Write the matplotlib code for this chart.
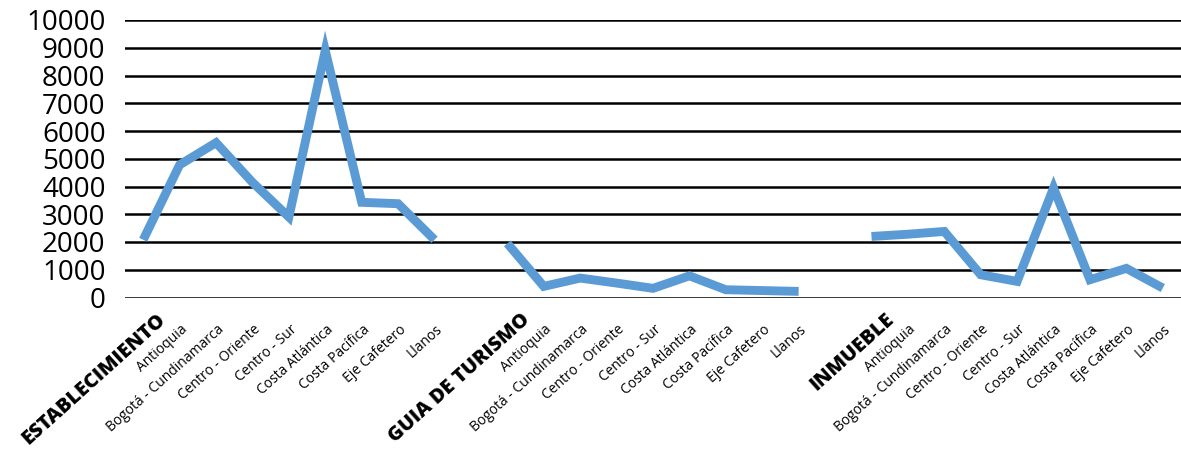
import numpy as np
import matplotlib
matplotlib.use("Agg")
import matplotlib.pyplot as plt
from matplotlib.transforms import blended_transform_factory, ScaledTranslation

groups = ["ESTABLECIMIENTO", "GUIA DE TURISMO", "INMUEBLE"]
regions = ["Antioquia", "Bogotá - Cundinamarca", "Centro - Oriente", "Centro - Sur",
           "Costa Atlántica", "Costa Pacífica", "Eje Cafetero", "Llanos"]
# first value in each list belongs to the group-label category
establecimiento = [2080, 4780, 5580, 4150, 2900, 8900, 3430, 3380, 2080]
guia_turismo = [1950, 400, 700, 520, 330, 780, 280, 250, 220]
inmueble = [2200, 2280, 2380, 820, 580, 3950, 640, 1050, 340]
yticks = [0, 1000, 2000, 3000, 4000, 5000, 6000, 7000, 8000, 9000, 10000]

series = [establecimiento, guia_turismo, inmueble]

labels, bold_flags, values = [], [], []
for gi, (g, vals) in enumerate(zip(groups, series)):
    labels.append(g); bold_flags.append(True)
    for r in regions:
        labels.append(r); bold_flags.append(False)
    values.extend(vals)
    if gi < len(groups) - 1:
        labels.append(""); bold_flags.append(False)
        values.append(np.nan)

x = np.arange(len(labels))
values = np.array(values, dtype=float)

W, H = 1181, 449
fig = plt.figure(figsize=(W / 100, H / 100), dpi=100)
ax = fig.add_axes([125 / W, (H - 297.5) / H, (W - 125) / W, (297.5 - 20) / H])

for yt in yticks:
    ax.axhline(yt, color="black", lw=1.8, zorder=1)

ax.plot(x, values, color="#5B9BD5", lw=6.4, solid_joinstyle="miter",
        solid_capstyle="butt", zorder=3)

ax.set_xlim(-0.5, len(labels) - 0.5)
ax.set_ylim(0, 10000)
ax.set_yticks(yticks)
ax.set_yticklabels([str(v) for v in yticks], fontsize=20, family="Open Sans")
ax.tick_params(axis="y", length=0, pad=14)
ax.set_xticks([])
for s in ax.spines.values():
    s.set_visible(False)

base = blended_transform_factory(ax.transData, ax.transAxes)
for xi, lab, b in zip(x, labels, bold_flags):
    if not lab:
        continue
    if b:
        off = ScaledTranslation(20 / 100, -19.5 / 100, fig.dpi_scale_trans)
        ax.text(xi, 0, lab, transform=base + off, rotation=42, rotation_mode="anchor",
                ha="right", va="center", fontsize=14.5, fontweight="heavy", family="Open Sans")
    else:
        off = ScaledTranslation(6 / 100, -30 / 100, fig.dpi_scale_trans)
        ax.text(xi, 0, lab, transform=base + off, rotation=42, rotation_mode="anchor",
                ha="right", va="center", fontsize=10, family="Open Sans")

fig.savefig("out.png", dpi=100)
